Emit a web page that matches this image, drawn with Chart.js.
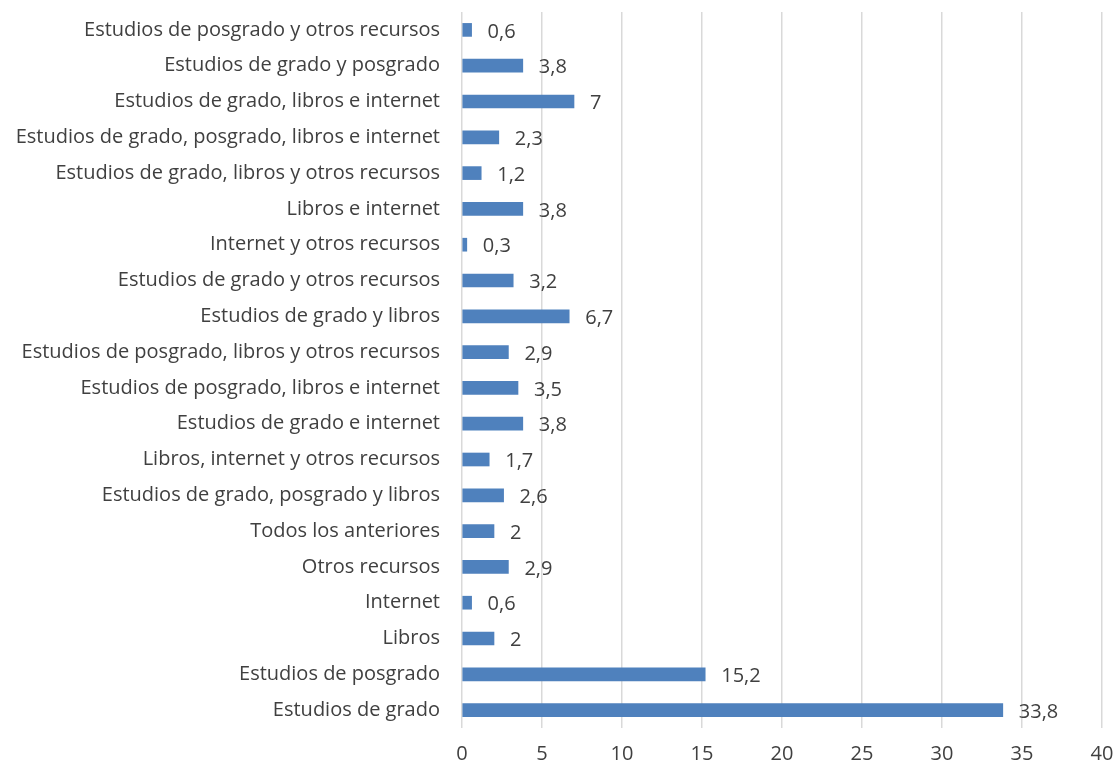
<!DOCTYPE html>
<html>
<head>
<meta charset="utf-8">
<script src="https://cdn.jsdelivr.net/npm/chart.js@4/dist/chart.umd.min.js"></script>
<style>
  html, body { margin: 0; padding: 0; background: #fff; }
  #wrap { width: 1118px; height: 767px; }
</style>
</head>
<body>
<div id="wrap"><canvas id="chart" width="1118" height="767"></canvas></div>
<script>
// categorías de arriba a abajo
const categories = [
  "Estudios de posgrado y otros recursos",
  "Estudios de grado y posgrado",
  "Estudios de grado, libros e internet",
  "Estudios de grado, posgrado, libros e internet",
  "Estudios de grado, libros y otros recursos",
  "Libros e internet",
  "Internet y otros recursos",
  "Estudios de grado y otros recursos",
  "Estudios de grado y libros",
  "Estudios de posgrado, libros y otros recursos",
  "Estudios de posgrado, libros e internet",
  "Estudios de grado e internet",
  "Libros, internet y otros recursos",
  "Estudios de grado, posgrado y libros",
  "Todos los anteriores",
  "Otros recursos",
  "Internet",
  "Libros",
  "Estudios de posgrado",
  "Estudios de grado"
];
const values = [0.6, 3.8, 7, 2.3, 1.2, 3.8, 0.3, 3.2, 6.7, 2.9, 3.5, 3.8, 1.7, 2.6, 2, 2.9, 0.6, 2, 15.2, 33.8];
const xTicks = [0, 5, 10, 15, 20, 25, 30, 35, 40];

const FONT = "'Open Sans', Lato, sans-serif";
const FONT_SIZE = 20;

// etiquetas de valor al final de cada barra
const valueLabels = {
  id: "valueLabels",
  afterDatasetsDraw(chart) {
    const ctx = chart.ctx;
    const meta = chart.getDatasetMeta(0);
    ctx.save();
    ctx.font = FONT_SIZE + "px " + FONT;
    ctx.fillStyle = "#404040";
    ctx.textAlign = "left";
    ctx.textBaseline = "middle";
    meta.data.forEach((bar, i) => {
      const txt = String(values[i]).replace(".", ",");
      ctx.fillText(txt, bar.x + 16, bar.y + 2);
    });
    ctx.restore();
  }
};

new Chart(document.getElementById("chart"), {
  type: "bar",
  data: {
    labels: categories,
    datasets: [{
      data: values,
      backgroundColor: "#4f81bd",
      barThickness: 13
    }]
  },
  options: {
    indexAxis: "y",
    responsive: false,
    animation: false,
    layout: { padding: { top: 12, right: 16, bottom: 0, left: 0 } },
    plugins: { legend: { display: false }, tooltip: { enabled: false } },
    scales: {
      x: {
        min: 0,
        max: 40,
        afterBuildTicks: (axis) => { axis.ticks = xTicks.map(v => ({ value: v })); },
        afterFit: (scale) => {
          scale.height = 39;
          scale.paddingLeft = 0;
          scale.paddingRight = 0;
        },
        grid: { color: "#d9d9d9", lineWidth: 1.5, drawTicks: false },
        border: { display: false },
        ticks: { color: "#404040", font: { family: FONT, size: FONT_SIZE }, padding: 14 }
      },
      y: {
        afterFit: (scale) => {
          scale.width = 462;
          scale.paddingTop = 0;
          scale.paddingBottom = 0;
        },
        grid: { display: false, drawTicks: false },
        border: { display: false },
        ticks: { color: "#404040", font: { family: FONT, size: FONT_SIZE }, padding: 22, autoSkip: false }
      }
    }
  },
  plugins: [valueLabels]
});
</script>
</body>
</html>
